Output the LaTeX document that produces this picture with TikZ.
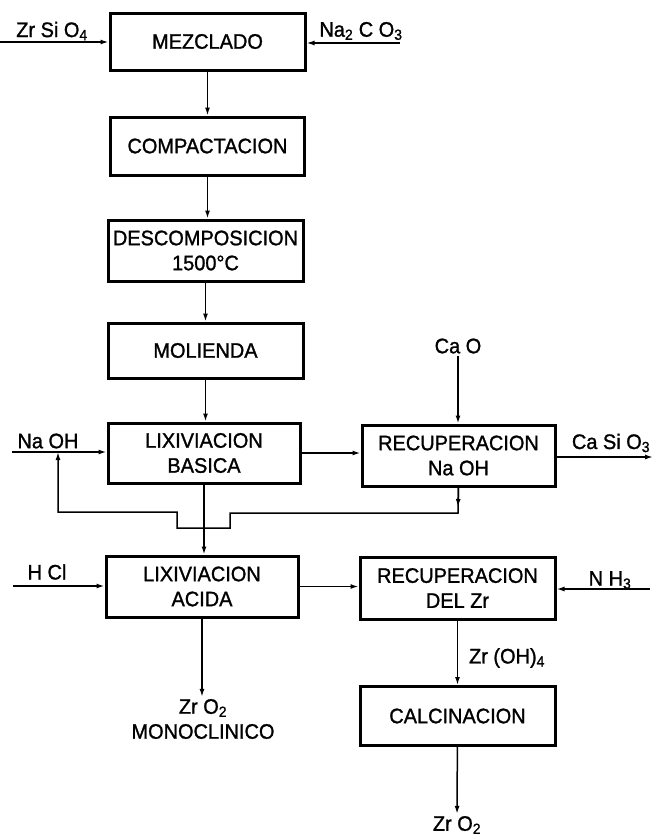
\documentclass[tikz,border=0pt]{standalone}
\usepackage{fontspec}
\setmainfont{Liberation Sans}[FakeStretch=0.95, FakeBold=1.2]
\usetikzlibrary{arrows.meta}

\begin{document}
\begin{tikzpicture}[x=1pt, y=-1pt,
    font=\fontsize{21}{25}\selectfont,
    proc/.style={draw, line width=3pt, minimum width=194pt, minimum height=60pt, align=center, inner sep=0pt},
    flow/.style={line width=1.5pt, -{Latex[length=8pt,width=5pt]}},
    feed/.style={inner sep=2pt}]
    \useasboundingbox (0,0) rectangle (655,838);

    % Main line
    \node[proc, minimum width=195pt, minimum height=57pt] (mezclado) at (207.5,41.5) {MEZCLADO};
    \node[proc, minimum height=58pt] (compactacion) at (207.5,146) {COMPACTACION};
    \node[proc, minimum width=195pt, minimum height=61pt] (descomposicion) at (205.5,250.5) {DESCOMPOSICION\\ 1500°C};
    \node[proc, minimum width=195pt, minimum height=55pt] (molienda) at (205.5,350.5) {MOLIENDA};
    \node[proc, minimum width=192pt] (lixbasica) at (204,453) {LIXIVIACION\\ BASICA};
    \node[proc, minimum width=192pt, minimum height=61pt] (lixacida) at (202,586.5) {LIXIVIACION\\ ACIDA};

    % Recovery line
    \node[proc, minimum width=193pt, minimum height=61pt] (recnaoh) at (458.5,455.5) {RECUPERACION\\ Na OH};
    \node[proc, minimum width=195pt, minimum height=62pt] (reczr) at (457.5,588) {RECUPERACION\\ DEL Zr};
    \node[proc, minimum width=195pt, minimum height=59pt] (calcinacion) at (457.5,716) {CALCINACION};

    % Feeds and products
    \node[feed] (zrsio) at (52,31) {Zr Si O\textsubscript{4}};
    \node[feed] (naco) at (361,31) {Na\textsubscript{2} C O\textsubscript{3}};
    \node[feed] (naoh) at (48,441) {Na OH};
    \node[feed] (cao) at (458,346) {Ca O};
    \node[feed] (casio) at (611,443) {Ca Si O\textsubscript{3}};
    \node[feed] (hcl) at (47,572) {H Cl};
    \node[feed] (nh) at (610,580) {N H\textsubscript{3}};
    \node[feed] (zroh) at (507,658) {Zr (OH)\textsubscript{4}};
    \node[feed, align=center] (monoclinico) at (203,719) {Zr O\textsubscript{2}\\ MONOCLINICO};
    \node[feed] (zro) at (457,825) {Zr O\textsubscript{2}};

    \coordinate (zrsioin) at (0,42);
    \coordinate (nacoin) at (400,43);
    \coordinate (naohin) at (12,452);
    \coordinate (casioout) at (653,457);
    \coordinate (hclin) at (13,586);
    \coordinate (nhin) at (650,589);

    % Recycle of Na OH
    \coordinate (retmid) at (458,507);
    \coordinate (ret) at (458,513);
    \coordinate (bridger) at (230,513);
    \coordinate (bridgel) at (177,512);
    \coordinate (retleft) at (58,512);

    % Arrows
    \draw[flow] (zrsioin) -- (zrsioin -| mezclado.west);
    \draw[flow] (nacoin) -- (nacoin -| mezclado.east);
    \draw[flow] (mezclado) -- (compactacion);
    \draw[flow] (compactacion.south) -- (compactacion.south |- descomposicion.north);
    \draw[flow] (descomposicion.south) -- (descomposicion.south |- molienda.north);
    \draw[flow] (molienda.south) -- (molienda.south |- lixbasica.north);
    \draw[flow] (naohin) -- (naohin -| lixbasica.west);
    \draw[flow] (lixbasica) -- (lixbasica -| recnaoh.west);
    \draw[flow] (cao) -- (cao |- recnaoh.north);
    \draw[flow] (casioout -| recnaoh.east) -- (casioout);
    \draw[flow] (recnaoh.south) -- (retmid);
    \draw[flow] (recnaoh.south) -- (ret) -- (bridger) -- (bridger |- 0,528) -- (bridgel |- 0,528) -- (bridgel) -- (retleft) -- (retleft |- naohin);
    \draw[flow] (lixbasica.south) -- (lixbasica.south |- lixacida.north);
    \draw[flow] (hclin) -- (hclin -| lixacida.west);
    \draw[flow] (lixacida) -- (lixacida -| reczr.west);
    \draw[flow] (nhin) -- (nhin -| reczr.east);
    \draw[flow] (lixacida.south) -- (lixacida.south |- monoclinico.north);
    \draw[flow] (reczr.south) -- (reczr.south |- calcinacion.north);
    \draw[flow] (calcinacion) -- (zro);
\end{tikzpicture}
\end{document}
